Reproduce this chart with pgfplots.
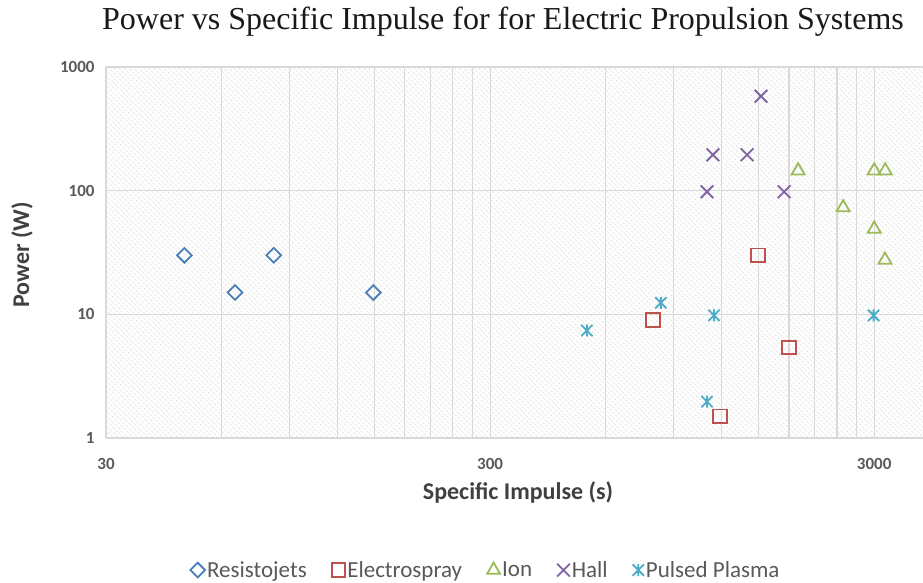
\documentclass[border=0pt]{standalone}
\usepackage{fontspec}
\setmainfont{Carlito}
\newfontfamily\titlefont{Liberation Serif}
\usepackage{pgfplots}
\pgfplotsset{compat=1.18}
\usetikzlibrary{patterns.meta}
\definecolor{cBlue}{HTML}{4A7EBB}
\definecolor{cRed}{HTML}{C0504D}
\definecolor{cGreen}{HTML}{9BBB59}
\definecolor{cPurple}{HTML}{8064A2}
\definecolor{cCyan}{HTML}{4BACC6}
\definecolor{cGrid}{HTML}{D9D9D9}
\definecolor{cText}{HTML}{595959}
\definecolor{cLabel}{HTML}{404040}
\pgfdeclareplotmark{xstar}{%
  \pgfpathmoveto{\pgfqpoint{-.75\pgfplotmarksize}{-.75\pgfplotmarksize}}%
  \pgfpathlineto{\pgfqpoint{.75\pgfplotmarksize}{.75\pgfplotmarksize}}%
  \pgfpathmoveto{\pgfqpoint{-.75\pgfplotmarksize}{.75\pgfplotmarksize}}%
  \pgfpathlineto{\pgfqpoint{.75\pgfplotmarksize}{-.75\pgfplotmarksize}}%
  \pgfpathmoveto{\pgfqpoint{0pt}{-.8\pgfplotmarksize}}%
  \pgfpathlineto{\pgfqpoint{0pt}{.8\pgfplotmarksize}}%
  \pgfusepathqstroke}
\begin{document}
\begin{tikzpicture}[x=1bp,y=1bp]
\useasboundingbox (0,0) rectangle (923,583);
\begin{axis}[
  at={(106bp,145bp)}, anchor=south west,
  scale only axis, width=817bp, height=371bp,
  xmode=log, ymode=log,
  xmin=30, xmax=4020, ymin=1, ymax=1000,
  xtick={30,300,3000}, xticklabels={30,300,3000},
  ytick={1,10,100,1000}, yticklabels={1,10,100,1000},
  minor xtick={60,90,120,150,180,210,240,270,600,900,1200,1500,1800,2100,2400,2700},
  minor ytick={},
  xmajorgrids, xminorgrids, ymajorgrids,
  major grid style={draw=cGrid, line width=1.1bp},
  minor grid style={draw=cGrid, line width=1.1bp},
  axis line style={draw=none},
  major tick length=0pt, minor tick length=0pt,
  tick style={draw=none},
  /pgf/number format/assume math mode=true,
  ticklabel style={font=\bfseries\fontsize{17bp}{20bp}\selectfont, text=cText},
  yticklabel style={xshift=-8bp},
  xticklabel style={yshift=-17bp},
  axis background/.style={pattern={Lines[angle=-45,distance=3.6bp,line width=0.9bp]}, pattern color=black!13},
  clip=false,
  legend style={at={(0.465,-0.356)}, anchor=center, draw=none, fill=none,
    font=\fontsize{23bp}{27bp}\selectfont, text=cText,
    legend columns=-1,
    /tikz/every even column/.append style={column sep=23bp},
    legend cell align=left},
]
\addplot[only marks, mark=square, mark size=5.2bp, mark options={rotate=45, draw=cBlue, fill=white, line width=1.8bp}]
  coordinates {(48,30) (65,15) (82,30) (149,15)};
\addlegendentry{Resistojets}
\addplot[only marks, mark=square, mark size=6.8bp, mark options={draw=cRed, fill=white, line width=1.8bp}]
  coordinates {(796,9) (1190,1.5) (1494,30) (1800,5.4)};
\addlegendentry{Electrospray}
\addplot[only marks, mark=triangle, mark size=7.5bp, mark options={draw=cGreen, fill=white, line width=1.8bp}]
  coordinates {(1902,145) (2491,73) (3000,49) (3000,145) (3205,145) (3200,27.5)};
\addlegendentry{Ion}
\addplot[only marks, mark=x, mark size=9bp, mark options={draw=cPurple, line width=1.8bp}]
  coordinates {(1101,98) (1141,195) (1400,195) (1522,580) (1748,98)};
\addlegendentry{Hall}
\addplot[only marks, mark=xstar, mark size=7.5bp, mark options={draw=cCyan, line width=1.8bp}]
  coordinates {(536,7.4) (835,12.4) (1148,9.8) (1101,1.97) (2990,9.8)};
\addlegendentry{Pulsed Plasma}
\end{axis}
\node[font=\titlefont\fontsize{32bp}{36bp}\selectfont, text=black!90] at (503,561) {Power vs Specific Impulse for for Electric Propulsion Systems};
\node[font=\bfseries\fontsize{24bp}{28bp}\selectfont, text=cLabel] at (518,91) {Specific Impulse (s)};
\node[font=\bfseries\fontsize{24bp}{28bp}\selectfont, text=cLabel, rotate=90] at (22,328) {Power (W)};
\end{tikzpicture}
\end{document}
